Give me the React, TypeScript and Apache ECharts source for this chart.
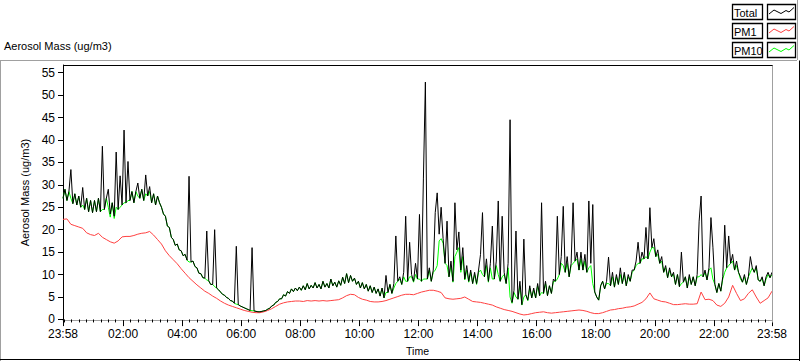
import React, { useEffect, useRef } from "react";
import * as echarts from "echarts";

// time axis in minutes of the day; the record runs 23:58 -> 23:58
const START_MIN = -2;
const END_MIN = 1438;
const TOTAL_STEP = 4; // minutes between Total / PM10 samples
const PM1_STEP = 8; // minutes between PM1 samples

const seriesNames = ["Total", "PM1", "PM10"];
const seriesColors = ["#000000", "#ff4040", "#00ff00"];

const xLabelTicks = [-2, 120, 240, 360, 480, 600, 720, 840, 960, 1080, 1200, 1320, 1438];
const yTicks = [0, 5, 10, 15, 20, 25, 30, 35, 40, 45, 50, 55];

const totalValues = [
  27, 29, 26.5, 28.5, 33.4, 25.8, 28, 25.5, 27.5, 25,
  29.4, 24.5, 27, 24, 26.5, 23.8, 26.5, 24, 27, 24,
  38.6, 24.5, 27, 29, 23.5, 26, 23, 37.3, 24.5, 32,
  25.5, 42.2, 26, 35.2, 26.5, 28.5, 26, 28.5, 30.4, 27,
  29, 26.5, 32.2, 27.5, 29.6, 26, 28, 25.5, 27.5, 26,
  25, 23.5, 23, 20.8, 20.5, 18.3, 17.8, 16.5, 16.8, 15.5,
  15.3, 14.2, 14.5, 13.2, 31.9, 12.8, 13, 11.8, 11.5, 10.3,
  10.2, 9.3, 9.2, 19.7, 8.6, 7.8, 7.8, 20, 7, 6.6,
  6.1, 5.6, 5.4, 4.9, 4.7, 4.2, 4.1, 3.6, 16.3, 3.3,
  3, 2.8, 2.6, 2.4, 2.2, 2, 16, 1.9, 1.8, 1.7,
  1.7, 1.8, 1.9, 2, 2.3, 2.5, 3, 3.2, 3.8, 4,
  4.6, 4.6, 5.5, 5.2, 6.2, 5.8, 6.8, 6.2, 7, 6.4,
  7.2, 6.5, 7.5, 6.6, 8, 6.8, 7.6, 7, 8.2, 7,
  7.8, 6.8, 8.5, 7.2, 8, 7, 9, 7.5, 8.3, 7.2,
  8.6, 7.6, 9.4, 8, 10.2, 8.2, 9.8, 8.5, 9.2, 7.8,
  8.5, 7, 8.2, 6.8, 7.8, 6.3, 7.5, 6, 7.2, 5.8,
  6.8, 5.2, 7, 4.8, 9.8, 6, 7.8, 5.8, 8, 18.6,
  8.5, 9.5, 7.8, 10.5, 23, 8.5, 17.2, 10, 8.5, 12.5,
  9, 23.4, 8.5, 31.5, 52.9, 9, 11.5, 8.5, 11, 23.8,
  28.2, 19, 25, 18, 12.5, 21.9, 9.5, 13, 8.5, 26,
  15.5, 19.5, 11, 16, 9, 12, 8.5, 11, 8, 10.5,
  8, 11, 14.5, 23.8, 9.5, 13.5, 8.5, 12.5, 20.8, 9,
  13, 26.4, 8.5, 23, 10.5, 8, 12.5, 44.5, 3.8, 6.5,
  19.7, 4.5, 8.5, 3.3, 17.9, 5.5, 4.3, 7.5, 4.8, 7,
  4.8, 8, 5.3, 26, 5.8, 8.5, 5.3, 7.5, 5.8, 9,
  8.5, 23, 10, 14, 25.2, 10.5, 14, 9.5, 12.5, 26,
  13, 15, 11, 15, 11, 14.5, 10.5, 26.4, 12.5, 25.6,
  6.1, 5, 4.3, 7.5, 8.5, 6.8, 8.5, 13.9, 7.5, 10.5,
  7.2, 10, 7.8, 11.5, 8, 10.5, 7.5, 10, 8.5, 11,
  11, 13, 17.2, 12.5, 15, 13.5, 20.5, 13.5, 24.9, 16,
  18, 14, 15.5, 12.5, 14, 10.5, 12, 9.3, 11.5, 9.5,
  10.5, 7.8, 10, 7.3, 15, 8.3, 9.5, 7, 10, 7.8,
  9.5, 7.5, 10, 21.9, 27.5, 9.5, 11, 8.8, 11.5, 22.7,
  16.1, 7.8, 6, 8, 6.3, 9.5, 21, 11.5, 18.6, 12.5,
  14.5, 11, 13, 10.5, 9.5, 8.3, 10, 7.8, 9.5, 14,
  11.5, 10.5, 12, 8.8, 8.5, 9.5, 7.5, 9.5, 10.5, 9.3, 10.5,
];

const pm10Values = [
  27, 29, 26.5, 28.5, 27, 25.8, 28, 25.5, 27.5, 25,
  25.5, 24.5, 27, 24, 26.5, 23.8, 26.5, 24, 27, 24,
  24.5, 24.5, 27, 25, 22.8, 26, 22.5, 25, 24.5, 25,
  25.5, 26, 26, 26.5, 26.5, 28.5, 26, 28.5, 27.5, 27,
  29, 26.5, 28, 27.5, 28.5, 26, 28, 25.5, 27.5, 26,
  25, 23.5, 23, 20.8, 20.5, 18.3, 17.8, 16.5, 16.8, 15.5,
  15.3, 14.2, 14.5, 13.2, 12.8, 12.8, 13, 11.8, 11.5, 10.3,
  10.2, 9.3, 9.2, 8.8, 8.6, 7.8, 7.8, 7.3, 7, 6.6,
  6.1, 5.6, 5.4, 4.9, 4.7, 4.2, 4.1, 3.6, 3.4, 3.3,
  3, 2.8, 2.6, 2.4, 2.2, 2, 1.95, 1.9, 1.8, 1.7,
  1.7, 1.8, 1.9, 2, 2.3, 2.5, 3, 3.2, 3.8, 4,
  4.6, 4.6, 5.5, 5.2, 6.2, 5.8, 6.8, 6.2, 7, 6.4,
  7.2, 6.5, 7.5, 6.6, 8, 6.8, 7.6, 7, 8.2, 7,
  7.8, 6.8, 8.5, 7.2, 8, 7, 9, 7.5, 8.3, 7.2,
  8.6, 7.6, 9.4, 8, 10.2, 8.2, 9.8, 8.5, 9.2, 7.8,
  8.5, 7, 8.2, 6.8, 7.8, 6.3, 7.5, 6, 7.2, 5.8,
  6.8, 5.2, 7, 4.8, 6, 6, 7.8, 5.8, 7, 8,
  8.5, 9, 7.8, 9.5, 8.5, 8.5, 9.5, 9.5, 8.3, 10,
  9, 9, 8.5, 9, 9, 9, 11, 8.5, 10.5, 11,
  12, 17.5, 18, 17, 12.5, 12, 9.5, 12, 8.3, 14,
  15, 16, 10.5, 14, 8.8, 11, 8.3, 10.5, 8, 10,
  7.8, 10.5, 11, 10, 9.5, 12, 8.3, 11.5, 9, 9,
  12, 10, 8.5, 9.5, 10, 8, 11.5, 5, 3.6, 6,
  5, 4.5, 7.5, 3.2, 5, 5.5, 4.2, 7, 4.8, 6.5,
  4.8, 7.5, 5.3, 6, 5.8, 8, 5.3, 7.5, 5.8, 8.5,
  8.5, 9, 10, 12.5, 12, 10.5, 12.5, 9.5, 12, 12.5,
  13, 13.5, 11, 13.5, 11, 13, 10.5, 11.5, 12, 8,
  6.1, 5, 4.3, 7.5, 8.5, 6.8, 8, 8, 7.5, 9.5,
  7.2, 9.5, 7.8, 10, 8, 10, 7.5, 9.5, 8.5, 10.5,
  11, 12, 12.5, 12.5, 13.5, 13.5, 14, 13.5, 15, 16,
  16, 14, 14.5, 12.5, 13, 10.5, 11.5, 9.3, 11, 9.5,
  10, 7.8, 10, 7.3, 8, 8.3, 9.5, 7, 9.5, 7.8,
  9.5, 7.5, 9.5, 9.5, 10, 9.5, 10.5, 8.8, 11, 11.5,
  9, 7.8, 6, 8, 6.3, 9, 10.5, 11.5, 12, 12.5,
  13, 11, 12, 10.5, 9, 8.3, 9.5, 7.8, 9.5, 10.5,
  11.5, 10.5, 11.5, 8.8, 8.5, 9, 7.5, 9, 10, 9.3, 10,
];

const pm1Values = [
  22.3, 22.4, 21.2, 20.9, 20.6, 20.3, 19.3, 18.9, 18.7, 19.2,
  18.3, 17.8, 17.3, 17.0, 17.5, 18.4, 18.5, 18.5, 18.7, 19,
  19.2, 19.3, 19.6, 18.8, 17.8, 16.8, 15.3, 14.2, 13.3, 12.4,
  11.3, 10.3, 9.3, 8.5, 7.7, 7, 6.3, 5.8, 5.2, 4.7,
  4.1, 3.6, 3.2, 2.9, 2.6, 2.3, 2.0, 1.8, 1.6, 1.5,
  1.5, 1.7, 2.0, 2.4, 2.9, 3.4, 3.7, 3.9, 4.0, 4.1,
  4.1, 4.0, 4.2, 4.1, 4.2, 4.1, 4.2, 4.1, 4.2, 4.3,
  4.4, 4.8, 5.3, 5.6, 5.5, 4.9, 4.5, 4.3, 4.0, 3.9,
  3.9, 4.0, 4.2, 4.5, 4.8, 5.1, 5.4, 5.6, 5.6, 5.5,
  5.8, 6.1, 6.3, 6.5, 6.5, 6.3, 6.0, 4.8, 4.6, 4.5,
  4.6, 4.7, 5.0, 4.5, 4.0, 3.9, 3.8, 3.6, 3.4, 3.2,
  2.8, 2.5, 2.2, 2.0, 1.8, 1.5, 1.2, 1.0, 1.1, 1.3,
  1.5, 1.6, 1.7, 1.5, 1.4, 1.5, 1.6, 1.7, 1.8, 1.9,
  2.0, 2.1, 2.0, 1.8, 1.5, 1.3, 1.3, 1.5, 1.8, 2.1,
  2.2, 2.4, 2.5, 2.7, 2.8, 3.0, 3.4, 3.8, 4.6, 5.9,
  4.6, 4.3, 4.0, 3.9, 3.6, 3.3, 3.3, 3.4, 3.5, 3.4,
  3.4, 3.5, 6.1, 4.4, 4.5, 4.2, 3.2, 2.9, 3.6, 5.0,
  7.6, 5.8, 4.2, 4.6, 5.8, 6.6, 5.0, 3.6, 4.2, 4.8,
  6.3,
];

const FONT = "'Liberation Sans', Arial, sans-serif";

function fmtTime(v: number): string {
  const m = ((Math.round(v) % 1440) + 1440) % 1440;
  const hh = Math.floor(m / 60);
  const mm = m % 60;
  return String(hh).padStart(2, "0") + ":" + String(mm).padStart(2, "0");
}

function buildOption() {
  const totalData = totalValues.map((v, i) => [START_MIN + i * TOTAL_STEP, v]);
  const pm10Data = pm10Values.map((v, i) => [START_MIN + i * TOTAL_STEP, v]);
  const pm1Data = pm1Values.map((v, i) => [START_MIN + i * PM1_STEP, v]);

  const minorTicks: number[] = [];
  for (let m = 0; m < END_MIN; m += 15) {
    if (m % 120 !== 0 || m === 0) minorTicks.push(m);
  }

  const legendRows = [4.5, 23.5, 42.5];
  const legendGraphics: any[] = [];
  seriesNames.forEach((name, k) => {
    const y0 = legendRows[k];
    legendGraphics.push({
      type: "rect",
      shape: { x: 732.5, y: y0, width: 30, height: 15 },
      style: { fill: "#fff", stroke: "#000", lineWidth: 1.3 },
      silent: true,
    });
    legendGraphics.push({
      type: "text",
      x: 734,
      y: y0 + 8,
      style: { text: name, fill: "#000", font: "11px " + FONT, textVerticalAlign: "middle" },
      silent: true,
    });
    legendGraphics.push({
      type: "rect",
      shape: { x: 767.5, y: y0, width: 28, height: 15 },
      style: { fill: "#fff", stroke: "#000", lineWidth: 1.3 },
      silent: true,
    });
    legendGraphics.push({
      type: "polyline",
      shape: {
        points: [
          [769, y0 + 9.5],
          [774, y0 + 5.5],
          [781, y0 + 9],
          [786, y0 + 6],
          [789, y0 + 7.5],
          [794, y0 + 3],
        ],
      },
      style: { stroke: seriesColors[k], lineWidth: 1, fill: null },
      silent: true,
    });
  });

  return {
    animation: false,
    backgroundColor: "#ffffff",
    grid: { left: 63, top: 65, width: 709, height: 257, show: false, containLabel: false },
    xAxis: [
      {
        type: "value",
        min: START_MIN,
        max: END_MIN,
        position: "bottom",
        axisLine: { show: true, onZero: false, lineStyle: { color: "#a0a0a0", width: 1 } },
        axisTick: { show: true, customValues: xLabelTicks, length: 6, lineStyle: { color: "#000", width: 1 } },
        axisLabel: {
          show: true,
          customValues: xLabelTicks,
          formatter: (v: number) => fmtTime(v),
          color: "#000",
          fontSize: 12,
          fontFamily: FONT,
          margin: 8,
        },
        splitLine: { show: false },
        name: "Time",
        nameLocation: "middle",
        nameGap: 23,
        nameTextStyle: { color: "#000", fontSize: 10.5, fontFamily: FONT },
      },
      {
        type: "value",
        min: START_MIN,
        max: END_MIN,
        position: "bottom",
        axisLine: { show: false },
        axisTick: { show: true, customValues: minorTicks, length: 3, lineStyle: { color: "#000", width: 1 } },
        axisLabel: { show: false },
        splitLine: { show: false },
      },
    ],
    yAxis: {
      type: "value",
      min: -0.15,
      max: 56.7,
      axisLine: { show: true, onZero: false, lineStyle: { color: "#000", width: 1 } },
      axisTick: { show: true, customValues: yTicks, length: 5, lineStyle: { color: "#000" } },
      axisLabel: {
        show: true,
        customValues: yTicks,
        color: "#000",
        fontSize: 12,
        fontFamily: FONT,
        margin: 8,
      },
      splitLine: { show: false },
      name: "Aerosol Mass (ug/m3)",
      nameLocation: "middle",
      nameRotate: 90,
      nameGap: 30,
      nameTextStyle: { color: "#000", fontSize: 11, fontFamily: FONT },
    },
    series: [
      {
        name: "PM10",
        type: "line",
        data: pm10Data,
        showSymbol: false,
        symbol: "none",
        lineStyle: { color: seriesColors[2], width: 1 },
        itemStyle: { color: seriesColors[2] },
        z: 1,
        silent: true,
      },
      {
        name: "PM1",
        type: "line",
        data: pm1Data,
        showSymbol: false,
        symbol: "none",
        lineStyle: { color: seriesColors[1], width: 1 },
        itemStyle: { color: seriesColors[1] },
        z: 2,
        silent: true,
      },
      {
        name: "Total",
        type: "line",
        data: totalData,
        showSymbol: false,
        symbol: "none",
        lineStyle: { color: seriesColors[0], width: 1 },
        itemStyle: { color: seriesColors[0] },
        z: 3,
        silent: true,
      },
    ],
    graphic: [
      // outer panel border
      { type: "line", shape: { x1: 0, y1: 60.5, x2: 797, y2: 60.5 }, style: { stroke: "#a0a0a0", lineWidth: 1 }, silent: true },
      { type: "line", shape: { x1: 0.5, y1: 60.5, x2: 0.5, y2: 361 }, style: { stroke: "#a0a0a0", lineWidth: 1 }, silent: true },
      { type: "line", shape: { x1: 0, y1: 359.5, x2: 800, y2: 359.5 }, style: { stroke: "#000", lineWidth: 1 }, silent: true },
      { type: "line", shape: { x1: 799.5, y1: 60.5, x2: 799.5, y2: 361 }, style: { stroke: "#000", lineWidth: 1 }, silent: true },
      { type: "line", shape: { x1: 797.5, y1: 0, x2: 797.5, y2: 60 }, style: { stroke: "#a0a0a0", lineWidth: 1 }, silent: true },
      // plot frame
      { type: "line", shape: { x1: 63, y1: 65.5, x2: 773, y2: 65.5 }, style: { stroke: "#000", lineWidth: 1 }, silent: true, z: 10 },
      { type: "line", shape: { x1: 772.5, y1: 65.5, x2: 772.5, y2: 322.5 }, style: { stroke: "#a0a0a0", lineWidth: 1 }, silent: true, z: 10 },
      // title
      {
        type: "text",
        x: 4,
        y: 40,
        style: { text: "Aerosol Mass (ug/m3)", fill: "#000", font: "11px " + FONT },
        silent: true,
      },
      ...legendGraphics,
    ],
  };
}

export default function App() {
  const ref = useRef<HTMLDivElement | null>(null);
  useEffect(() => {
    if (!ref.current) return;
    const chart = echarts.init(ref.current, undefined, { renderer: "svg", width: 800, height: 361 });
    chart.setOption(buildOption() as any);
    return () => {
      chart.dispose();
    };
  }, []);
  return (
    <div
      ref={ref}
      style={{ position: "absolute", left: 0, top: 0, width: 800, height: 361, background: "#fff" }}
    />
  );
}
